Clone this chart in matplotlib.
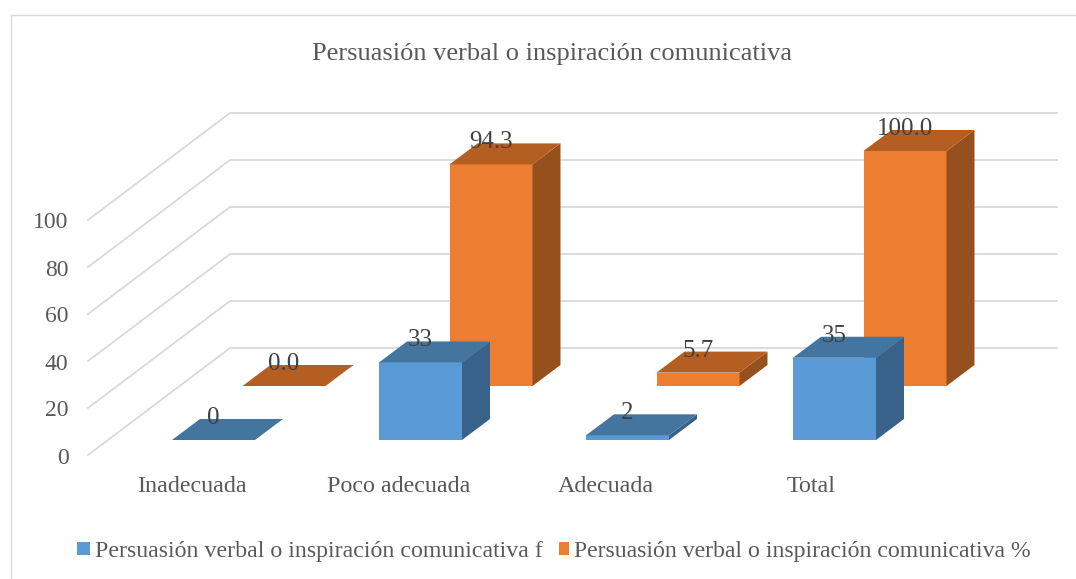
import matplotlib
matplotlib.use("Agg")
import matplotlib.pyplot as plt
from matplotlib.patches import Polygon, Rectangle

plt.rcParams["font.family"] = ["Liberation Serif", "DejaVu Serif"]

categories = ["Inadecuada", "Poco adecuada", "Adecuada", "Total"]
values_f = [0, 33, 2, 35]
values_pct = [0.0, 94.3, 5.7, 100.0]
labels_f = ["0", "33", "2", "35"]
labels_pct = ["0.0", "94.3", "5.7", "100.0"]
y_ticks = [0, 20, 40, 60, 80, 100]
title = "Persuasión verbal o inspiración comunicativa"
legend_f = "Persuasión verbal o inspiración comunicativa f"
legend_pct = "Persuasión verbal o inspiración comunicativa %"

# oblique projection of the 3D chart, in image pixels
PX_PER_UNIT = 2.35
BAR_X0 = 172
CAT_STEP = 207
BAR_W = 83
BAR_DX, BAR_DY = 28, -21
SERIES_DX, SERIES_DY = 70.5, -54
BASE_Y = 440
WALL_DX, WALL_DY = 142, -107
AXIS_X, AXIS_Y = 88, 455

TEXT = "#595959"
LABEL = "#404040"
GRID = "#d9d9d9"


def draw_bar(ax, cat, series, value, front, top, side):
    x0 = BAR_X0 + cat * CAT_STEP + series * SERIES_DX
    x1 = x0 + BAR_W
    yb = BASE_Y + series * SERIES_DY
    yt = yb - value * PX_PER_UNIT
    z = 3 + 2 * (1 - series) + cat * 0.1
    if value > 0:
        ax.add_patch(Polygon([(x0, yb), (x1, yb), (x1, yt), (x0, yt)], fc=front, ec="none", zorder=z))
        ax.add_patch(Polygon([(x1, yb), (x1 + BAR_DX, yb + BAR_DY), (x1 + BAR_DX, yt + BAR_DY), (x1, yt)],
                             fc=side, ec="none", zorder=z))
    ax.add_patch(Polygon([(x0, yt), (x1, yt), (x1 + BAR_DX, yt + BAR_DY), (x0 + BAR_DX, yt + BAR_DY)],
                         fc=top, ec="none", zorder=z))
    return (x0 + x1) / 2, yt


fig = plt.figure(figsize=(10.76, 5.79), dpi=100)
ax = fig.add_axes([0, 0, 1, 1])
ax.set_xlim(0, 1076)
ax.set_ylim(579, 0)
ax.axis("off")

# chart frame, no right side in the reference
ax.plot([11, 11, 1076], [579, 14.5, 14.5], color=GRID, lw=1)

ax.text(552, 54, title, ha="center", va="center", fontsize=19, color=TEXT)

for t in y_ticks:
    y = AXIS_Y - t * PX_PER_UNIT
    ax.plot([AXIS_X, AXIS_X + WALL_DX, 1057], [y, y + WALL_DY, y + WALL_DY], color=GRID, lw=1.3, zorder=1)
    ax.text(68.5, y + 3, str(t), ha="right", va="center", fontsize=17, color=TEXT)

label_pos = []
for i in range(len(categories)):
    label_pos.append((draw_bar(ax, i, 1, values_pct[i], "#ed7d31", "#b55e22", "#95501d"), labels_pct[i]))
for i in range(len(categories)):
    label_pos.append((draw_bar(ax, i, 0, values_f[i], "#5b9bd5", "#44759f", "#38628a"), labels_f[i]))

for (x, y), s in label_pos:
    ax.text(x, y - 22, s, ha="center", va="center", fontsize=18, color=LABEL, zorder=10)

for i, c in enumerate(categories):
    ax.text(BAR_X0 + i * CAT_STEP + 20 - (i == 3) * 2, 486, c, ha="center", va="center", fontsize=17.3, color=TEXT)

ax.add_patch(Rectangle((77, 542), 13, 13, fc="#5b9bd5", ec="none"))
ax.text(95, 552, legend_f, ha="left", va="center", fontsize=17.2, color=TEXT)
ax.add_patch(Rectangle((559, 542), 10, 13, fc="#ed7d31", ec="none"))
ax.text(574, 552, legend_pct, ha="left", va="center", fontsize=17.15, color=TEXT)

fig.savefig("out.png", dpi=100)
